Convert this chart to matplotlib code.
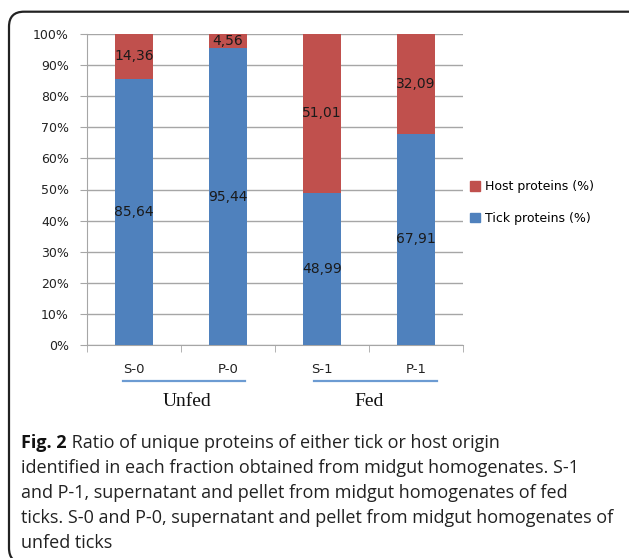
import matplotlib
matplotlib.use("Agg")
import matplotlib.pyplot as plt
from matplotlib.patches import FancyBboxPatch, Patch
import matplotlib.transforms as mtransforms

fractions = ["S-0", "P-0", "S-1", "P-1"]
groups = ["Unfed", "Fed"]
tick_pct = [85.64, 95.44, 48.99, 67.91]
host_pct = [14.36, 4.56, 51.01, 32.09]
y_ticks = [0, 10, 20, 30, 40, 50, 60, 70, 80, 90, 100]

caption_head = "Fig. 2"
caption_lines = [
    " Ratio of unique proteins of either tick or host origin",
    "identified in each fraction obtained from midgut homogenates. S-1",
    "and P-1, supernatant and pellet from midgut homogenates of fed",
    "ticks. S-0 and P-0, supernatant and pellet from midgut homogenates of",
    "unfed ticks",
]

blue = "#4F81BD"
red = "#C0504D"
W, H = 629, 558

fig = plt.figure(figsize=(W / 100, H / 100), dpi=100)

# rounded frame around chart + caption (runs off the right/bottom edge)
frame = FancyBboxPatch((0.09, -0.05), 6.6, 5.58 - 0.117 + 0.05,
                       boxstyle="round,pad=0,rounding_size=0.15",
                       transform=fig.dpi_scale_trans, fill=False,
                       edgecolor="#222222", linewidth=1.6)
fig.patches.append(frame)

ax = fig.add_axes([87 / W, 1 - 345 / H, (463 - 87) / W, (345 - 34) / H])
x = range(len(fractions))
ax.bar(x, tick_pct, width=0.4, color=blue, zorder=3)
ax.bar(x, host_pct, width=0.4, bottom=tick_pct, color=red, zorder=3)

for i in x:
    ax.text(i, tick_pct[i] / 2, f"{tick_pct[i]:.2f}".replace(".", ","),
            ha="center", va="center", fontsize=10, color="#1a1a1a", zorder=4)
    ax.text(i, tick_pct[i] + host_pct[i] / 2, f"{host_pct[i]:.2f}".replace(".", ","),
            ha="center", va="center", fontsize=10, color="#1a1a1a", zorder=4)

ax.set_xlim(-0.5, 3.5)
ax.set_ylim(0, 100)
ax.set_yticks(y_ticks)
ax.set_yticklabels([f"{v}%" for v in y_ticks], fontsize=9, color="#222222")
ax.yaxis.grid(True, color="#A6A6A6", linewidth=1, zorder=0)
ax.tick_params(axis="y", length=5, color="#A6A6A6", pad=8)

ax.set_xticks(list(x))
ax.set_xticklabels(fractions, fontsize=9.5, color="#222222")
ax.set_xticks([-0.5, 0.5, 1.5, 2.5, 3.5], minor=True)
ax.tick_params(axis="x", which="major", length=0, pad=13)
ax.tick_params(axis="x", which="minor", length=5, color="#A6A6A6")

for side in ["top", "right"]:
    ax.spines[side].set_visible(False)
for side in ["left", "bottom"]:
    ax.spines[side].set_color("#A6A6A6")

# group underlines and names below the fraction labels
trans = mtransforms.blended_transform_factory(ax.transData, fig.transFigure)
for (x0, x1), name, xc in zip([(-0.12, 1.18), (1.92, 3.22)], groups, [0.56, 2.5]):
    ax.plot([x0, x1], [1 - 381 / H] * 2, transform=trans, color="#6C9BD2",
            linewidth=1.6, clip_on=False)
    ax.text(xc, 1 - 402 / H, name, transform=trans, ha="center", va="center",
            fontsize=14, family="Liberation Serif", color="#111111")

handles = [Patch(color=red, label="Host proteins (%)"),
           Patch(color=blue, label="Tick proteins (%)")]
fig.legend(handles=handles, loc="center left", bbox_to_anchor=(470 / W, 1 - 202.5 / H),
           frameon=False, fontsize=9, handlelength=0.8, handleheight=0.8,
           handletextpad=0.4, labelspacing=1.5, borderpad=0, borderaxespad=0)

# caption
cap_font = "Open Sans"
cap_size = 13
head = fig.text(21 / W, 1 - 443 / H, caption_head, fontsize=cap_size, fontweight="bold",
                family=cap_font, va="center", color="#111111")
fig.canvas.draw()
ax.annotate(caption_lines[0], xy=(1, 0.5), xycoords=head, va="center",
            fontsize=cap_size, family=cap_font, color="#222222", annotation_clip=False)
for k, line in enumerate(caption_lines[1:], start=1):
    fig.text(21 / W, 1 - (443 + 25 * k) / H, line, fontsize=cap_size,
             family=cap_font, va="center", color="#222222")

fig.savefig("out.png", dpi=100)
